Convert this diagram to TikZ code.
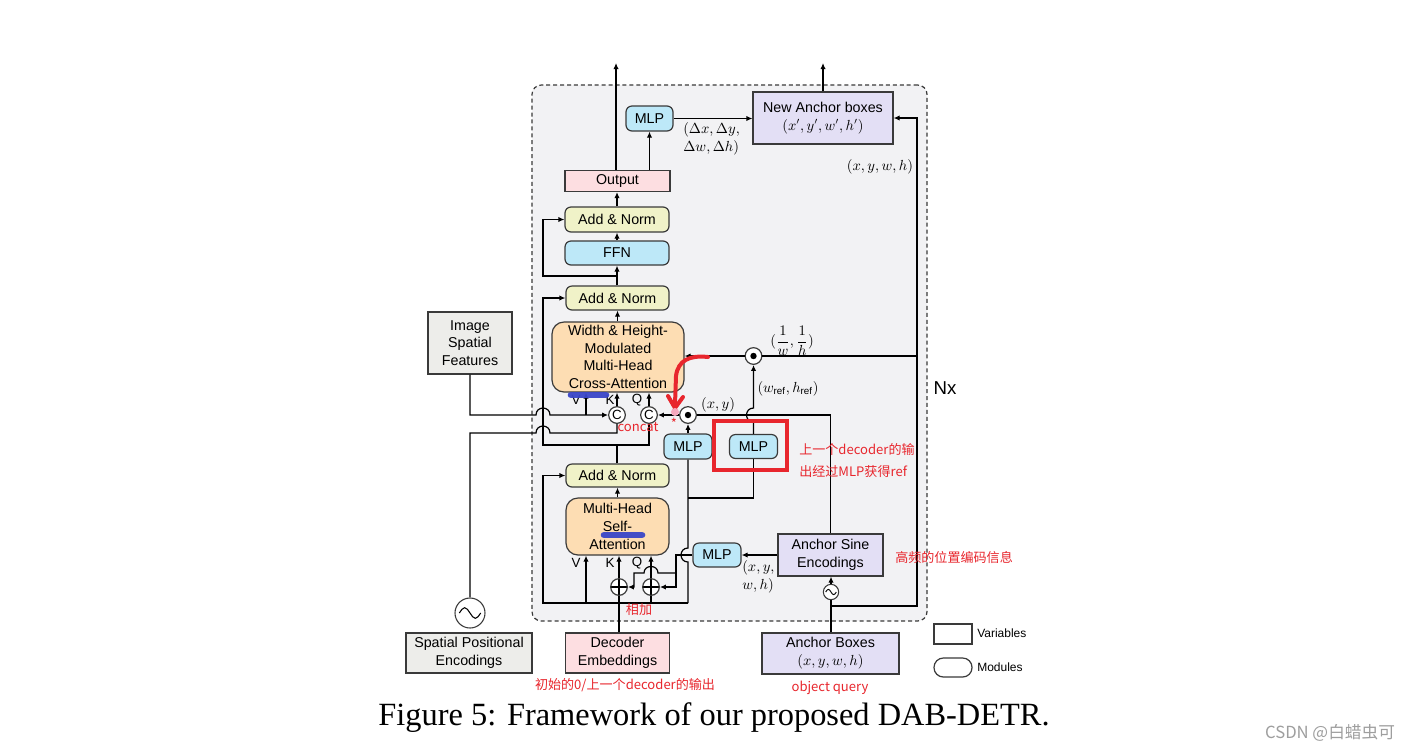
\documentclass[tikz,border=0pt]{standalone}
\usepackage{amsmath}
\usepackage{fontspec}
\setmainfont{Liberation Sans}
\newfontfamily\capfont{Liberation Serif}
\newfontfamily\cjk{Noto Sans CJK SC}
\usetikzlibrary{arrows.meta,calc}
\definecolor{bgc}{HTML}{F2F2F4}
\definecolor{yel}{HTML}{F0F2C8}
\definecolor{blu}{HTML}{BDE8F8}
\definecolor{org}{HTML}{FDDDB3}
\definecolor{pnk}{HTML}{FDDEE1}
\definecolor{lav}{HTML}{E3DFF5}
\definecolor{gry}{HTML}{EDEDEA}
\definecolor{bdr}{HTML}{3A3A3A}
\definecolor{rd}{HTML}{E8262D}
\definecolor{bmark}{HTML}{3A46C8}
\definecolor{pdot}{HTML}{F6A9BE}
\begin{document}
\begin{tikzpicture}[x=0.75pt,y=-0.75pt,
  base/.style={draw=bdr,line width=0.9pt,inner sep=0pt,align=center,text=black,font=\fontsize{10.7}{13.3}\selectfont},
  mod/.style={base,rounded corners=4.5pt},
  var/.style={base},
  wh/.style 2 args={minimum width=#1*0.75pt,minimum height=#2*0.75pt},
  conn/.style={line width=0.9pt,-{Latex[length=4.5pt,width=4pt]}},
  wire/.style={line width=0.9pt},
  opnode/.style={circle,draw=bdr,fill=white,line width=0.9pt,minimum size=12.5pt,inner sep=0pt,font=\fontsize{10}{12}\selectfont},
  plusnode/.style={opnode,path picture={\draw[black,line width=0.8pt] ([yshift=-6.4pt]path picture bounding box.center) -- ([yshift=6.4pt]path picture bounding box.center) ([xshift=-6.4pt]path picture bounding box.center) -- ([xshift=6.4pt]path picture bounding box.center);}},
  dotnode/.style={opnode,path picture={\fill[black] (path picture bounding box.center) circle[radius=2.4pt];}},
  sinenode/.style={circle,draw=bdr,fill=white,line width=0.8pt,inner sep=0pt},
  lab/.style={font=\fontsize{10.5}{13}\selectfont,inner sep=0pt},
  rnote/.style={text=rd,font=\cjk\fontsize{9.8}{12}\selectfont,inner sep=0pt},
  legtext/.style={font=\fontsize{9}{11}\selectfont,inner sep=0pt,anchor=west}
]
\fill[white] (0,0) rectangle (1416,751);
\useasboundingbox (0,0) rectangle (1416,751);

% decoder container
\node[draw=bdr,dashed,dash pattern=on 3pt off 2.2pt,fill=bgc,rounded corners=7pt,line width=0.9pt,inner sep=0pt,wh={395}{536}] (decoder) at (729.5,353) {};

% boxes
\node[var,fill=pnk,wh={105}{21}] (out) at (617.5,181) {Output};
\node[mod,fill=blu,wh={47}{25}] (mlpT) at (649.5,118.5) {MLP};
\node[var,fill=lav,wh={140}{52}] (nab) at (823,118) {New Anchor boxes\\$(x',y',w',h')$};
\node[mod,fill=yel,wh={104}{25}] (an3) at (617,219.5) {Add \& Norm};
\node[mod,fill=blu,wh={104}{24}] (ffn) at (617,253) {FFN};
\node[mod,fill=yel,wh={103}{24}] (an2) at (617.5,298) {Add \& Norm};
\node[mod,fill=org,wh={132}{70},rounded corners=9pt] (ca) at (618,357) {Width \& Height-\\Modulated\\Multi-Head\\Cross-Attention};
\node[mod,fill=yel,wh={103}{23}] (an1) at (617.5,475.5) {Add \& Norm};
\node[mod,fill=org,wh={103}{57},rounded corners=9pt] (sa) at (617.5,526.5) {Multi-Head\\Self-\\Attention};
\node[var,fill=gry,wh={84}{62}] (isf) at (470,343) {Image\\Spatial\\Features};
\node[var,fill=gry,wh={126}{40}] (spe) at (469,653) {Spatial Positional\\Encodings};
\node[var,fill=pnk,wh={104}{40}] (de) at (617.5,653) {Decoder\\Embeddings};
\node[var,fill=lav,wh={137}{41}] (ab) at (830.5,653.5) {Anchor Boxes\\$(x,y,w,h)$};
\node[var,fill=lav,wh={105}{42}] (ase) at (830.5,555) {Anchor Sine\\Encodings};
\node[mod,fill=blu,wh={48}{24}] (mlpR) at (717,555) {MLP};
\node[mod,fill=blu,wh={48}{25}] (mlpL) at (688,446.5) {MLP};
\node[mod,fill=blu,wh={48}{24}] (mlpM) at (753.5,446.5) {MLP};

% operators
\node[opnode] (c1) at (617,415) {C};
\node[opnode] (c2) at (649,415) {C};
\node[dotnode] (o1) at (688,415) {};
\node[dotnode] (o2) at (753.5,356) {};
\node[plusnode] (p1) at (619,587) {};
\node[plusnode] (p2) at (651,587) {};
\node[sinenode,minimum size=22.5pt] (sinL) at (470,613) {};
\node[sinenode,minimum size=11.5pt] (sinR) at (831,592) {};
\draw[line width=0.8pt] (sinL) ++(-8pt,0) sin ++(4pt,4pt) cos ++(4pt,-4pt) sin ++(4pt,-4pt) cos ++(4pt,4pt);
\draw[line width=0.7pt] (sinR) ++(-4pt,0) sin ++(2pt,2pt) cos ++(2pt,-2pt) sin ++(2pt,-2pt) cos ++(2pt,2pt);

% top outputs
\coordinate (tL) at (616,63);
\coordinate (tR) at (823,63);
\draw[conn] (out.north -| tL) -- (tL);
\draw[conn] (nab.north) -- (tR);
\draw[conn] (out.north -| mlpT) -- (mlpT.south);
\draw[conn] (mlpT.east) -- (mlpT.east -| nab.west);

% main stack
\draw[conn] (an3.north) -- (an3.north |- out.south);
\draw[conn] (ffn.north) -- (ffn.north |- an3.south);
\draw[conn] (an2.north -| ffn) -- (ffn.south);
\draw[conn] (ca.north -| an2) -- (an2.south);
\draw[conn] (sa.north) -- (an1.south);

% residuals
\coordinate (r2) at (617,276);
\draw[conn] (r2) -- (543,276) |- (an3.west);
\coordinate (jq) at (543,445);
\draw[conn] (c2.south) |- (jq) |- (an2.west);
\draw[wire] (an1.north -| c1) -- (c1 |- jq);

% image spatial features
\draw[conn] (isf.south) |- (536,415) .. controls (536,405.7) and (550,405.7) .. (550,415) -- (c1.west);
\coordinate (vj) at (586,415);
\draw[conn] (vj) -- (vj |- ca.south);
% spatial positional encodings
\draw[wire] (sinL.north) |- (536,433) .. controls (536,423.7) and (550,423.7) .. (550,433) -| (c1.south);

% K, Q into cross attention
\draw[conn] (c1.north) -- (c1.north |- ca.south);
\draw[conn] (c2.north) -- (c2.north |- ca.south);
\draw[conn] (o1.west) -- (c2.east);
\draw[wire] (ase.north) |- (o1.east);
\draw[conn] (mlpL.north) -- (o1.south);
\draw[conn] (mlpM.north) -- (753.5,422) .. controls (744.2,422) and (744.2,408) .. (753.5,408) -- (o2.south);
\draw[wire] (o2.east) -- (917,356);
\draw[conn] (o2.west) -- (o2.west -| ca.east);

% bottom wiring
\coordinate (b0) at (543,603);
\coordinate (b1) at (688,603);
\draw[conn] (b1) -- (b0) |- (an1.west);
\draw[wire] (b1) -- (688,562) .. controls (678.7,562) and (678.7,548) .. (688,548) -- (mlpL.south);
\draw[wire] (688,498) -| (mlpM.south);
\coordinate (vs) at (586,603);
\draw[conn] (vs) -- (vs |- sa.south);
\draw[conn] (p1.north) -- (p1.north |- sa.south);
\draw[conn] (p2.north) -- (p2.north |- sa.south);
\draw[wire] (de.north -| p1) -- (p1.south);
\draw[wire] (p2.south) -- (p2.south |- b1);
\draw[conn] (mlpR.west) -- (676,555) -- (676,587) -- (p2.east);
\draw[conn] (676,573) -- (658,573) .. controls (658,564.3) and (644,564.3) .. (644,573) -- (634,573) -- (634,587) -- (p1.east);

% anchor path
\draw[wire] (ab.north -| sinR) -- (sinR.south);
\draw[conn] (sinR.north) -- (sinR.north |- ase.south);
\coordinate (j1) at (831,606);
\coordinate (rt) at (917,606);
\draw[conn] (j1) -- (rt) |- (nab.east);
\draw[conn] (ase.west) -- (mlpR.east);

% labels
\node[lab,anchor=west,align=left] at (683,139) {$(\Delta x,\Delta y,$\\$\Delta w,\Delta h)$};
\node[lab] at (880,167) {$(x,y,w,h)$};
\node[lab,font=\fontsize{11}{13}\selectfont] at (792,341) {$(\dfrac{1}{w},\dfrac{1}{h})$};
\node[lab] at (788,389) {$(w_{\mathrm{ref}},h_{\mathrm{ref}})$};
\node[lab] at (718,405) {$(x,y)$};
\node[lab,anchor=west,align=left] at (742,577) {$(x,y,$\\$w,h)$};
\node[lab,font=\fontsize{10}{12}\selectfont] at (576,400) {V};
\node[lab,font=\fontsize{10}{12}\selectfont] at (610,400) {K};
\node[lab,font=\fontsize{10}{12}\selectfont] at (637,400) {Q};
\node[lab,font=\fontsize{10}{12}\selectfont] at (576,563) {V};
\node[lab,font=\fontsize{10}{12}\selectfont] at (610,563) {K};
\node[lab,font=\fontsize{10}{12}\selectfont] at (637,563) {Q};
\node[lab,font=\fontsize{14}{16}\selectfont] at (945,388) {Nx};

% legend
\node[var,fill=white,wh={38}{20}] (legv) at (953,634) {};
\node[legtext] at (977,633) {Variables};
\node[mod,fill=white,wh={38}{19},rounded corners=7pt] (legm) at (953,667.5) {};
\node[legtext] at (977,667) {Modules};

% caption and watermark
\node[inner sep=0pt,font=\capfont\fontsize{24.3}{28}\selectfont] at (714,718) {Figure 5: Framework of our proposed DAB-DETR.};
\node[inner sep=0pt,text=black!38,font=\cjk\fontsize{12.5}{14}\selectfont] at (1330,733) {CSDN @白蜡虫可};

% annotations
\draw[rd,line width=3pt] (714,421) rectangle (787,470);
\draw[bmark,line width=5pt,line cap=round,opacity=0.95] (571,395) -- (606,395);
\draw[bmark,line width=5pt,line cap=round,opacity=0.95] (604,535) -- (642,535);
\draw[rd,line width=3pt,line cap=round] (708,357) .. controls (690,355) and (678,360) .. (676,376) -- (675,404);
\draw[rd,line width=3pt,line cap=round,line join=round] (668,396) -- (675,408) -- (683,397);
\fill[pdot] (675,412) circle[radius=3pt];
\node[rnote] at (674,423) {*};
\node[rnote] at (638,427) {concat};
\node[rnote,anchor=west] at (799,449) {上一个decoder的输};
\node[rnote,anchor=west] at (799,472) {出经过MLP获得ref};
\node[rnote] at (639,610) {相加};
\node[rnote] at (625,685) {初始的0/上一个decoder的输出};
\node[rnote,anchor=west] at (895,557) {高频的位置编码信息};
\node[rnote] at (830,688) {object query};
\end{tikzpicture}
\end{document}
